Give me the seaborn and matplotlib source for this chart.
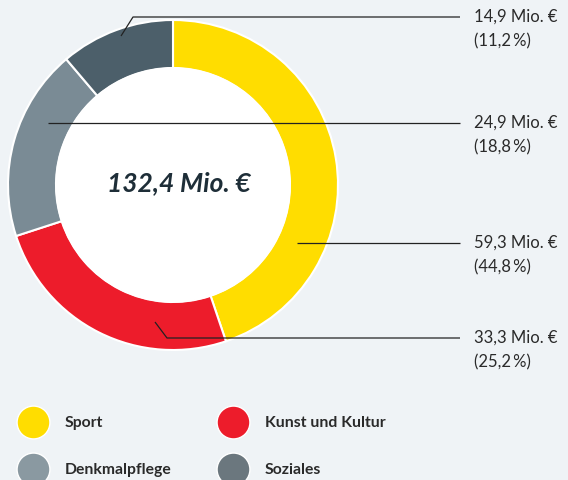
import numpy as np
import matplotlib
matplotlib.use('Agg')
import matplotlib.pyplot as plt
import seaborn as sb

sb.set_theme(style='white')
plt.rcParams['font.family'] = ['Lato', 'DejaVu Sans']

categories = ['Sport', 'Kunst und Kultur', 'Denkmalpflege', 'Soziales']
amounts = [59.3, 33.3, 24.9, 14.9]
shares = [44.8, 25.2, 18.8, 11.2]
total_label = '132,4 Mio. €'
wedge_colors = ['#FFDD00', '#ED1C2B', '#7A8B95', '#4C5F6A']
legend_colors = ['#FFDD00', '#ED1C2B', '#8A99A1', '#6B777E']
bg = '#EFF3F6'

fig = plt.figure(figsize=(5.68, 4.81), dpi=100, facecolor=bg)
ax = fig.add_axes([0, 0, 1, 1])
ax.set_facecolor(bg)

cx, cy, R = 173, 186, 165
# y axis is inverted, so counterclock in data space runs clockwise on screen
wedges, _ = ax.pie(shares, colors=wedge_colors, startangle=-90, counterclock=True,
                   center=(cx, cy), radius=R, frame=True,
                   wedgeprops=dict(width=48, edgecolor='white', linewidth=1.5))
ax.add_patch(plt.Circle((cx, cy), R - 48, color='white', zorder=3))
ax.set_xlim(0, 568)
ax.set_ylim(481, 0)
ax.axis('off')

ax.text(cx + 6, cy - 3, total_label, ha='center', va='center', fontsize=19,
        fontweight='bold', fontstyle='italic', color='#1E2E38', zorder=4)

# leader lines: (start point in wedge, elbow)
leaders = {
    'Sport': [(297, 244), (297, 244)],
    'Kunst und Kultur': [(155, 323), (167, 339)],
    'Denkmalpflege': [(48, 124), (48, 124)],
    'Soziales': [(121, 37), (133, 18)],
}
for cat, amt, sh in zip(categories, amounts, shares):
    (x0, y0), (x1, y1) = leaders[cat]
    ax.plot([x0, x1, 460], [y0, y1, y1], color='#222222', lw=0.9, zorder=5,
            solid_capstyle='butt')
    amt_s = f'{amt:.1f}'.replace('.', ',')
    sh_s = f'{sh:.1f}'.replace('.', ',')
    ax.text(474, y1 - 1, f'{amt_s} Mio. €', ha='left', va='center', fontsize=12,
            color='#2A2A2A')
    ax.text(474, y1 + 23, f'({sh_s}\u2009%)', ha='left', va='center', fontsize=12,
            color='#2A2A2A')

# legend
pos = [(33, 423), (233, 423), (33, 470), (233, 470)]
for (lx, ly), cat, col in zip(pos, categories, legend_colors):
    ax.scatter([lx], [ly], s=560, color=col, edgecolor='white', linewidth=1, zorder=5)
    ax.text(lx + 32, ly, cat, ha='left', va='center', fontsize=11.3,
            fontweight='bold', color='#2A2A2A')

fig.savefig('out.png', dpi=100, facecolor=bg)
